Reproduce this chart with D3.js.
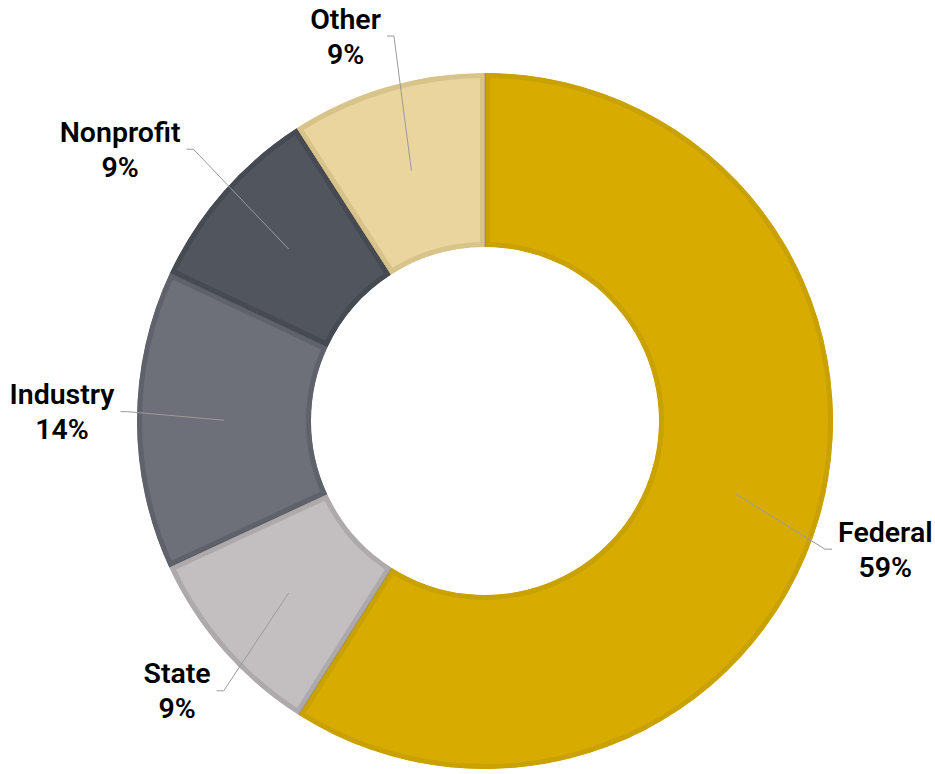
<!DOCTYPE html>
<html>
<head>
<meta charset="utf-8">
<script src="https://cdn.jsdelivr.net/npm/d3@7"></script>
<style>
  body { margin: 0; background: #fff; }
  .label { font-family: Roboto, "Liberation Sans", sans-serif; font-size: 28.5px; font-weight: 600; fill: #000; }
  .leader { fill: none; stroke: #9a9a9a; stroke-width: 1; }
</style>
</head>
<body>
<svg id="chart" width="935" height="774"></svg>
<script>
// Funding sources, clockwise from 12 o'clock
var categories = ['Federal', 'State', 'Industry', 'Nonprofit', 'Other'];
var values = [59.0, 9.1, 13.9, 8.9, 9.1];
var pctLabels = ['59%', '9%', '14%', '9%', '9%'];
var fills = ['#d8ab00', '#c3bfc1', '#6d7079', '#51555e', '#e9d59d'];
var edges = ['#c9a100', '#aeaaac', '#5f626b', '#464a53', '#d8c38a'];

// label nudges from the plain polar spot (layout only)
var nudges = [[-3, 11], [8, -7], [-3, -8], [-49, 5], [-21, 18]];

var svg = d3.select('#chart');
var cx = 485, cy = 421;
var outerR = 348, innerR = 174, labelR = 420;
var border = 5;

var pie = d3.pie().sort(null).value(function(d) { return d; });
var arcs = pie(values);

var arc = d3.arc().innerRadius(innerR).outerRadius(outerR);

var g = svg.append('g').attr('transform', 'translate(' + cx + ',' + cy + ')');
var defs = svg.append('defs');

// clip each slice to itself so the stroke becomes an inner bevel
arcs.forEach(function(d, i) {
    defs.append('clipPath')
        .attr('id', 'clip' + i)
        .append('path')
        .attr('d', arc(d));
});

g.selectAll('.slice')
    .data(arcs)
    .enter()
    .append('path')
    .classed('slice', true)
    .attr('d', arc)
    .attr('fill', function(d, i) { return fills[i]; })
    .attr('stroke', function(d, i) { return edges[i]; })
    .attr('stroke-width', border * 2)
    .attr('clip-path', function(d, i) { return 'url(#clip' + i + ')'; });

// thin separators between slices
g.selectAll('.sep')
    .data(arcs)
    .enter()
    .append('line')
    .classed('sep', true)
    .attr('x1', function(d) { return innerR * Math.sin(d.startAngle); })
    .attr('y1', function(d) { return -innerR * Math.cos(d.startAngle); })
    .attr('x2', function(d) { return outerR * Math.sin(d.startAngle); })
    .attr('y2', function(d) { return -outerR * Math.cos(d.startAngle); })
    .attr('stroke', 'rgba(0,0,0,0.18)')
    .attr('stroke-width', 1);

// labels
var labels = g.selectAll('.lab')
    .data(arcs)
    .enter()
    .append('g')
    .classed('lab', true)
    .each(function(d, i) {
        var mid = (d.startAngle + d.endAngle) / 2;
        var lx = labelR * Math.sin(mid) + nudges[i][0];
        var ly = -labelR * Math.cos(mid) + nudges[i][1];
        var sel = d3.select(this);
        var t1 = sel.append('text').classed('label', true)
            .attr('x', lx).attr('y', ly - 7.5)
            .attr('text-anchor', 'middle')
            .text(categories[i]);
        sel.append('text').classed('label', true)
            .attr('x', lx).attr('y', ly + 27.5)
            .attr('text-anchor', 'middle')
            .text(pctLabels[i]);
        var w = t1.node().getComputedTextLength();

        var c = arc.centroid(d);
        var side = lx > 0 ? -1 : 1;   // leader approaches from the slice side
        var endX = lx + side * (w / 2 + 6);
        var elbowX = endX + side * 7;
        sel.insert('path', 'text')
            .classed('leader', true)
            .attr('d', d3.line()([c, [elbowX, ly], [endX, ly]]));
    });
</script>
</body>
</html>
